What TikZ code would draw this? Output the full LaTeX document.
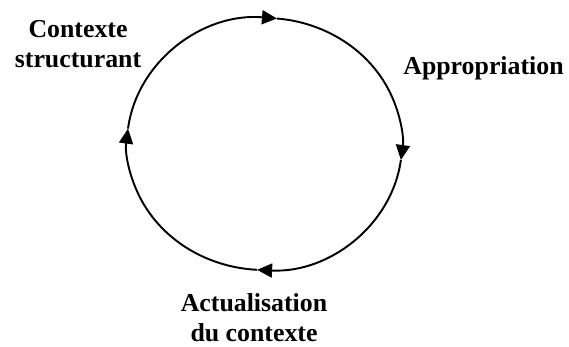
\documentclass[tikz,border=0pt]{standalone}
\usepackage{fontspec}
\setmainfont{Liberation Serif}
\usetikzlibrary{arrows.meta}
\tikzset{
    lbl/.style={font=\bfseries\fontsize{14.7}{17.6}\selectfont, align=center, anchor=base, inner sep=0pt},
    cyc/.style={line width=1.1pt, -{Triangle[length=0.3cm,width=0.28cm]}}
}
\begin{document}
\begin{tikzpicture}
    \useasboundingbox (0,0) rectangle (11.38,6.94);
    % cycle (clockwise)
    \coordinate (c) at (5.29,4.06);
    \draw[cyc] (c) ++(173:2.75 and 2.52) arc[start angle=173, end angle=84.8, x radius=2.75, y radius=2.52];
    \draw[cyc] (c) ++(84.8:2.75 and 2.52) arc[start angle=84.8, end angle=-7.3, x radius=2.75, y radius=2.52];
    \draw[cyc] (c) ++(-7.3:2.75 and 2.52) arc[start angle=-7.3, end angle=-93.1, x radius=2.75, y radius=2.52];
    \draw[cyc] (c) ++(-93.1:2.75 and 2.52) arc[start angle=-93.1, end angle=-187, x radius=2.75, y radius=2.52];
    % labels
    \node[lbl] (contexte) at (1.56,5.58) {Contexte\\structurant};
    \node[lbl] (appro) at (9.67,5.44) {Appropriation};
    \node[lbl] (actu) at (5.08,0.10) {Actualisation\\du contexte};
\end{tikzpicture}
\end{document}
